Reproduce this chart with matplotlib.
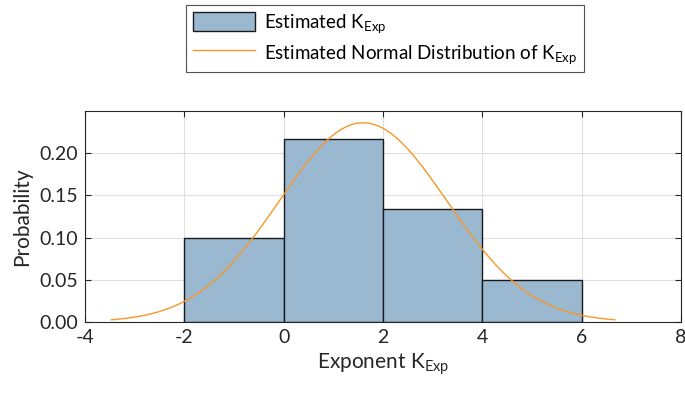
import numpy as np
import matplotlib.pyplot as plt
from matplotlib.ticker import FixedLocator, FormatStrFormatter

plt.rcParams['font.family'] = ['Lato', 'DejaVu Sans']
plt.rcParams['mathtext.fontset'] = 'custom'
plt.rcParams['mathtext.rm'] = 'Lato'
plt.rcParams['mathtext.it'] = 'Lato'
plt.rcParams['axes.unicode_minus'] = False

# Histograma (normalizado como densidad) del exponente estimado
bordes_bins = [-2, 0, 2, 4, 6]
probabilidad = [0.100, 0.2167, 0.1333, 0.050]

# Parametros de la normal ajustada
mu_k = 1.6
sigma_k = 1.69

x_normal = np.linspace(mu_k - 3 * sigma_k, mu_k + 3 * sigma_k, 200)
y_normal = np.exp(-0.5 * ((x_normal - mu_k) / sigma_k) ** 2) / (sigma_k * np.sqrt(2 * np.pi))

fig = plt.figure(figsize=(6.85, 3.96), dpi=100)
ax = fig.add_axes([85 / 685, 1 - 322 / 396, 596 / 685, 211 / 396])

anchos = np.diff(bordes_bins)
barras = ax.bar(bordes_bins[:-1], probabilidad, width=anchos, align='edge',
                color='#9ab8d0', edgecolor='#1a1a1a', linewidth=1.0,
                label=r'Estimated K$_{\mathrm{Exp}}$', zorder=2)
linea, = ax.plot(x_normal, y_normal, color='#f7962a', linewidth=1.0,
                 label=r'Estimated Normal Distribution of K$_{\mathrm{Exp}}$', zorder=3)

ax.set_xlim(-4, 8)
ax.set_ylim(0, 0.25)
ax.xaxis.set_major_locator(FixedLocator([-4, -2, 0, 2, 4, 6, 8]))
ax.yaxis.set_major_locator(FixedLocator([0, 0.05, 0.10, 0.15, 0.20]))
ax.yaxis.set_major_formatter(FormatStrFormatter('%.2f'))
ax.tick_params(direction='in', top=True, right=True, length=4, width=0.8,
               labelsize=14, colors='#262626', pad=5)
ax.grid(True, color='#e0e0e0', linewidth=0.8, zorder=0)
ax.set_axisbelow(True)
for s in ax.spines.values():
    s.set_color('#262626')
    s.set_linewidth(0.8)

ax.set_xlabel(r'Exponent K$_{\mathrm{Exp}}$', fontsize=15, color='#262626', labelpad=4)
ax.set_ylabel('Probability', fontsize=15, color='#262626', labelpad=5)

leg = fig.legend(handles=[barras, linea], loc='upper center',
                 bbox_to_anchor=(385 / 685, 1 - 5 / 396), borderaxespad=0,
                 fontsize=13.5, frameon=True, fancybox=False, edgecolor='#262626',
                 handlelength=3.3, handleheight=1.25, borderpad=0.35,
                 labelspacing=0.4, handletextpad=0.5)
leg.get_frame().set_linewidth(0.8)

fig.savefig('out.png', dpi=100)
